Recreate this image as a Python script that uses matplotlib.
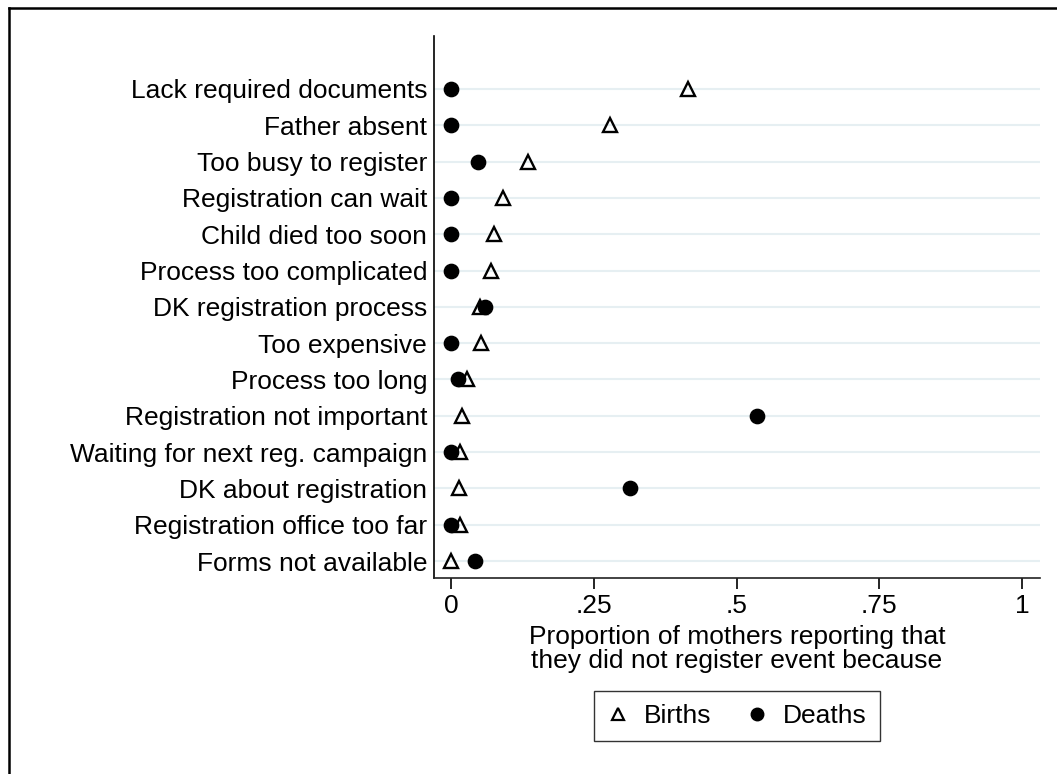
import matplotlib
matplotlib.use("Agg")
import matplotlib.pyplot as plt
from matplotlib.lines import Line2D

plt.rcParams['font.family'] = ['Liberation Sans', 'DejaVu Sans']

reasons = [
    "Lack required documents",
    "Father absent",
    "Too busy to register",
    "Registration can wait",
    "Child died too soon",
    "Process too complicated",
    "DK registration process",
    "Too expensive",
    "Process too long",
    "Registration not important",
    "Waiting for next reg. campaign",
    "DK about registration",
    "Registration office too far",
    "Forms not available",
]
births = [0.415, 0.278, 0.135, 0.091, 0.075, 0.070, 0.051, 0.053, 0.028, 0.019, 0.016, 0.014, 0.016, 0.0]
deaths = [0.0, 0.0, 0.047, 0.0, 0.0, 0.0, 0.060, 0.0, 0.012, 0.536, 0.0, 0.313, 0.0, 0.042]
xticks = [0, 0.25, 0.5, 0.75, 1]
xticklabels = ["0", ".25", ".5", ".75", "1"]

W, H = 1057, 774
fig = plt.figure(figsize=(W / 100, H / 100), dpi=100)
fig.patch.set_facecolor("white")

# figure border (only top and left visible)
fig.add_artist(Line2D([8.5 / W, 8.5 / W], [0, 1 - 7.5 / H], color="black", lw=1.8,
                      transform=fig.transFigure))
fig.add_artist(Line2D([8.5 / W, 1], [1 - 7.5 / H, 1 - 7.5 / H], color="black", lw=1.8,
                      transform=fig.transFigure))

left, right, top, bottom = 434, 1040, 36, 578
ax = fig.add_axes([left / W, 1 - bottom / H, (right - left) / W, (bottom - top) / H])

ypos = list(range(len(reasons)))
for y in ypos:
    ax.axhline(y, color="#e6eff2", lw=1.5, zorder=1)

ax.plot(births, ypos, linestyle="none", marker="^", markersize=10.5,
        markerfacecolor="none", markeredgecolor="black", markeredgewidth=1.7,
        zorder=3, label="Births")
ax.plot(deaths, ypos, linestyle="none", marker="o", markersize=10.3,
        markerfacecolor="black", markeredgecolor="black", zorder=4, label="Deaths")

ax.set_xlim(-0.0298, 1.0315)
ax.set_ylim(13 + 17 / 36.31, -53 / 36.31)

ax.set_yticks(ypos)
ax.set_yticklabels(reasons, fontsize=19)
ax.tick_params(axis="y", length=0, pad=5)
ax.set_xticks(xticks)
ax.set_xticklabels(xticklabels, fontsize=19)
ax.tick_params(axis="x", length=8, width=1.2, pad=3.5)

for s in ["top", "right"]:
    ax.spines[s].set_visible(False)
ax.spines["left"].set_linewidth(1.2)
ax.spines["bottom"].set_linewidth(1.2)
ax.spines["bottom"].set_color("#222222")

ax.set_xlabel("Proportion of mothers reporting that\nthey did not register event because",
              fontsize=19, linespacing=1.02, labelpad=5)

handles = [
    Line2D([], [], linestyle="none", marker="^", markersize=8, markerfacecolor="none",
           markeredgecolor="black", markeredgewidth=1.6),
    Line2D([], [], linestyle="none", marker="o", markersize=9, markerfacecolor="black",
           markeredgecolor="black"),
]
leg = fig.legend(handles, ["Births", "Deaths"], loc="center",
                 bbox_to_anchor=(737 / W, 1 - 716 / H), ncol=2, fontsize=19,
                 frameon=True, fancybox=False, edgecolor="black", handlelength=0.8,
                 handletextpad=0.6, columnspacing=1.3, borderpad=0.5)
leg.get_frame().set_linewidth(1.0)

fig.savefig("out.png", dpi=100, facecolor="white")
